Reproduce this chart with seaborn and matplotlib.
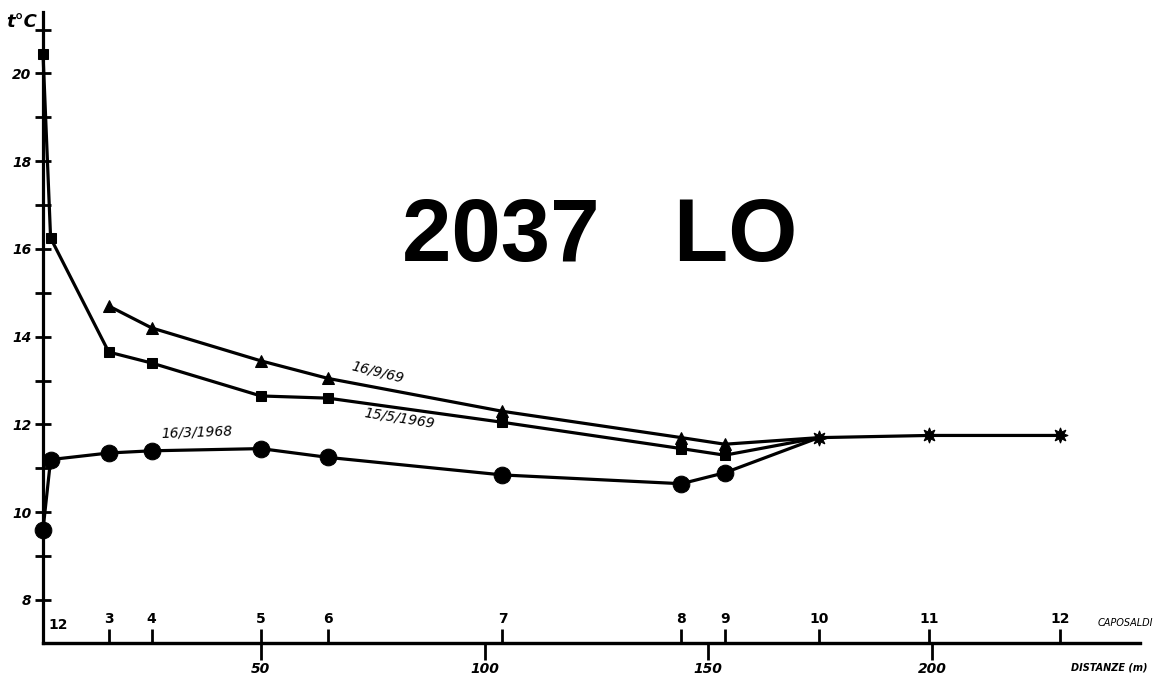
import matplotlib
matplotlib.use("Agg")
import matplotlib.pyplot as plt
import matplotlib.transforms as mtransforms
import numpy as np
import pandas as pd
import seaborn as sns

# Distances of the survey points (caposaldi) along the cave, in metres
caposaldi = ["1", "2", "3", "4", "5", "6", "7", "8", "9", "10", "11", "12"]
distanze = [1.3, 3.0, 16.0, 25.6, 50.0, 65.0, 104.0, 144.0, 153.7, 174.7, 199.4, 228.6]

# Air temperature (°C) measured at each point
temp_1969_05 = [20.45, 16.25, 13.65, 13.4, 12.65, 12.6, 12.05, 11.45, 11.3]   # points 1-9
temp_1969_09 = [14.7, 14.2, 13.45, 13.05, 12.3, 11.7, 11.55]                 # points 3-9
temp_1968_03 = [9.6, 11.2, 11.35, 11.4, 11.45, 11.25, 10.85, 10.65, 10.9]     # points 1-9
temp_comune = [11.7, 11.75, 11.75]                                            # points 10-12

dist_ticks = [50, 100, 150, 200]
y_major = [8, 10, 12, 14, 16, 18, 20]

sns.set_style("ticks")
plt.rcParams["font.family"] = ["DejaVu Sans"]
for key in ("text.color", "axes.edgecolor", "axes.labelcolor", "xtick.color", "ytick.color"):
    plt.rcParams[key] = "black"

W, H = 1173, 684
fig = plt.figure(figsize=(W / 100, H / 100), dpi=100)
ax = fig.add_axes([43 / W, 41 / H, (1140 - 43) / W, (643 - 12) / H])

lw = 2.3
ink = "black"

# each series joins the shared point 10; its own markers stop at point 9
s_may = pd.DataFrame({"d": distanze[:9] + [distanze[9]], "t": temp_1969_05 + [temp_comune[0]]})
s_sep = pd.DataFrame({"d": distanze[2:9] + [distanze[9]], "t": temp_1969_09 + [temp_comune[0]]})
s_mar = pd.DataFrame({"d": distanze[:9] + [distanze[9]], "t": temp_1968_03 + [temp_comune[0]]})
s_com = pd.DataFrame({"d": distanze[9:], "t": temp_comune})

sns.lineplot(data=s_mar, x="d", y="t", ax=ax, color=ink, lw=lw, marker="o", ms=12,
             markevery=slice(0, -1), mec=ink, clip_on=False, zorder=3)
sns.lineplot(data=s_may, x="d", y="t", ax=ax, color=ink, lw=lw, marker="s", ms=7,
             markevery=slice(0, -1), mec=ink, clip_on=False, zorder=3)
sns.lineplot(data=s_sep, x="d", y="t", ax=ax, color=ink, lw=lw, marker="^", ms=9,
             markevery=slice(0, -1), mec=ink, clip_on=False, zorder=3)
sns.lineplot(data=s_com, x="d", y="t", ax=ax, color=ink, lw=lw, marker=(8, 1, 0), ms=11,
             mec=ink, clip_on=False, zorder=4)

ax.set_xlim(1.3, 246.5)
ax.set_ylim(7.02, 21.4)
ax.set_xlabel("")
ax.set_ylabel("")

for side in ("top", "right"):
    ax.spines[side].set_visible(False)
for side in ("left", "bottom"):
    ax.spines[side].set_linewidth(2.3)
    ax.spines[side].set_color(ink)

# distance axis below the line
ax.set_xticks(dist_ticks)
ax.set_xticklabels([str(v) for v in dist_ticks])
ax.tick_params(axis="x", direction="out", length=12, width=2, color=ink, pad=2,
               labelsize=10, labelcolor=ink)

# survey point numbers above the same line
ax2 = ax.twiny()
ax2.set_xlim(ax.get_xlim())
ax2.spines["top"].set_position(("axes", 0.0))
ax2.spines["top"].set_linewidth(2.3)
ax2.spines["top"].set_color(ink)
for side in ("left", "right", "bottom"):
    ax2.spines[side].set_visible(False)
ax2.xaxis.set_ticks_position("top")
ax2.set_xticks(distanze[2:])
ax2.set_xticklabels(caposaldi[2:])
ax2.tick_params(axis="x", direction="out", length=10, width=2, color=ink, pad=2,
                labelsize=10, labelcolor=ink)
for lab in ax2.get_xticklabels():
    lab.set_fontweight("bold")

# temperature axis: crossing ticks every degree, labels every two
ax.set_yticks(y_major)
ax.set_yticks(np.arange(9, 22, 2), minor=True)
ax.tick_params(axis="y", which="both", direction="inout", length=11, width=2,
               color=ink, pad=3, labelsize=10, labelcolor=ink)
for lab in ax.get_yticklabels() + ax.get_xticklabels():
    lab.set_fontweight("bold")
    lab.set_fontstyle("italic")

blend = mtransforms.blended_transform_factory(ax.transData, ax.transAxes)
ax.text(4.6, 0.018, "12", transform=blend, ha="center", va="bottom",
        fontsize=10, fontweight="bold")

# series labels written along the curves
ax.text(35.7, 11.82, "16/3/1968", fontsize=10, fontstyle="italic", ha="center",
        va="center", rotation=2)
ax.text(76.0, 13.2, "16/9/69", fontsize=10, fontstyle="italic", ha="center",
        va="center", rotation=-14)
ax.text(81.0, 12.14, "15/5/1969", fontsize=10, fontstyle="italic", ha="center",
        va="center", rotation=-9)

# axis names
fig.text(22 / W, 1 - 22 / H, "t°C", fontsize=13, fontweight="bold", fontstyle="italic",
         ha="center", va="center")
fig.text(1125 / W, 1 - 623 / H, "CAPOSALDI", fontsize=7, fontstyle="italic",
         ha="center", va="center")
fig.text(1109 / W, 1 - 668 / H, "DISTANZE (m)", fontsize=7, fontweight="bold",
         fontstyle="italic", ha="center", va="center")

# cave code
fig.text(600 / W, 1 - 238 / H, "2037   LO", fontsize=64, fontweight="bold",
         family=["Liberation Sans", "DejaVu Sans"], ha="center", va="center")

fig.savefig("out.png", dpi=100, facecolor="white")
